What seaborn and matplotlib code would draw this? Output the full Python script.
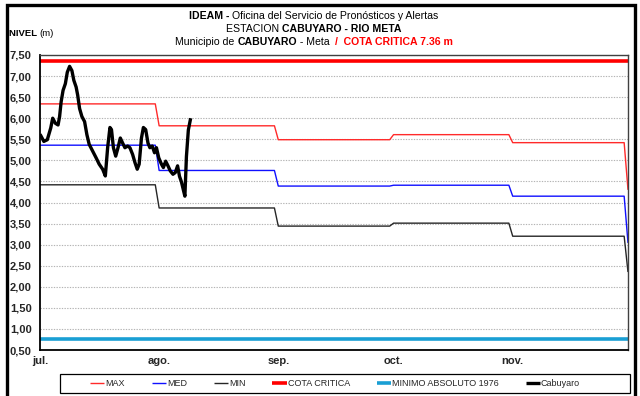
import numpy as np
import pandas as pd
import matplotlib
matplotlib.use("Agg")
import matplotlib.pyplot as plt
from matplotlib import font_manager
from matplotlib.ticker import FixedLocator, FixedFormatter, MultipleLocator, FuncFormatter
from matplotlib.patches import Rectangle
import seaborn as sns

# Monthly reference levels (m), first day of each month Jul..Dec
meses = ["2023-07-01", "2023-08-01", "2023-09-01", "2023-10-01", "2023-11-01", "2023-12-01"]
nivel_max = [6.34, 5.82, 5.49, 5.61, 5.42, 4.30]
nivel_med = [5.36, 4.76, 4.39, 4.41, 4.15, 3.04]
nivel_min = [4.42, 3.87, 3.44, 3.51, 3.20, 2.35]
cota_critica = 7.36
minimo_absoluto = 0.77

# Observed stage at Cabuyaro: days since 1 July and level (m)
obs_dia = [0.0, 1.0, 1.9, 2.8, 3.3, 4.0, 4.7, 5.1, 5.5, 6.0, 6.6, 7.1, 7.7, 8.3,
           8.8, 9.4, 9.8, 10.3, 10.9, 11.6, 12.2, 12.8, 13.7, 14.6, 15.4, 16.3,
           17.0, 17.6, 18.2, 18.6, 19.1, 19.7, 20.3, 20.9, 21.5, 22.1, 22.8, 23.4,
           24.1, 24.7, 25.3, 25.8, 26.4, 26.9, 27.5, 28.1, 28.6, 29.2, 29.8, 30.3,
           30.9, 31.6, 32.1, 32.7, 33.3, 33.9, 34.6, 35.2, 35.8, 36.3, 36.8, 37.3,
           37.7, 38.1, 38.6, 39.2]
obs_nivel = [5.62, 5.45, 5.49, 5.77, 6.00, 5.88, 5.84, 6.04, 6.39, 6.66, 6.82, 7.09,
             7.23, 7.13, 6.90, 6.74, 6.55, 6.23, 6.04, 5.92, 5.61, 5.38, 5.22, 5.06,
             4.91, 4.79, 4.63, 5.30, 5.78, 5.73, 5.30, 5.10, 5.30, 5.53, 5.41, 5.30,
             5.34, 5.30, 5.14, 4.95, 4.79, 4.91, 5.53, 5.78, 5.73, 5.41, 5.30, 5.34,
             5.18, 5.30, 5.06, 4.91, 4.83, 4.98, 4.87, 4.75, 4.67, 4.71, 4.87, 4.62,
             4.49, 4.30, 4.15, 5.09, 5.72, 6.00]

etiquetas_mes = ["jul.", "ago.", "sep.", "oct.", "nov."]
series = ["MAX", "MED", "MIN", "COTA CRITICA", "MINIMO ABSOLUTO 1976", "Cabuyaro"]
colores = {"MAX": "#ff2a2a", "MED": "#1010ff", "MIN": "#262626",
           "COTA CRITICA": "#ff0000", "MINIMO ABSOLUTO 1976": "#1a9fd4",
           "Cabuyaro": "#000000"}
grosor = {"MAX": 1.0, "MED": 1.0, "MIN": 1.0, "COTA CRITICA": 2.6,
          "MINIMO ABSOLUTO 1976": 2.6, "Cabuyaro": 2.4}

sns.set_theme(style="white")
disponibles = {f.name for f in font_manager.fontManager.ttflist}
familia = [f for f in ["Liberation Sans Narrow", "Liberation Sans", "DejaVu Sans"]
           if f in disponibles]
plt.rcParams["font.family"] = familia

# Daily table: each day carries the reference value of its month
inicio = pd.Timestamp(meses[0])
fechas = pd.date_range(meses[0], meses[-1], freq="D")
mes_idx = {pd.Timestamp(m).to_period("M"): i for i, m in enumerate(meses)}
idx = [mes_idx[f.to_period("M")] for f in fechas]
diario = pd.concat([
    pd.DataFrame({"fecha": fechas, "nivel": [nivel_max[i] for i in idx], "serie": "MAX"}),
    pd.DataFrame({"fecha": fechas, "nivel": [nivel_med[i] for i in idx], "serie": "MED"}),
    pd.DataFrame({"fecha": fechas, "nivel": [nivel_min[i] for i in idx], "serie": "MIN"}),
    pd.DataFrame({"fecha": fechas, "nivel": cota_critica, "serie": "COTA CRITICA"}),
    pd.DataFrame({"fecha": fechas, "nivel": minimo_absoluto, "serie": "MINIMO ABSOLUTO 1976"}),
])
obs = pd.DataFrame({"fecha": inicio + pd.to_timedelta(obs_dia, unit="D"),
                    "nivel": obs_nivel, "serie": "Cabuyaro"})

fig = plt.figure(figsize=(6.4, 3.96), dpi=100)
ax = fig.add_axes([40 / 640, 1 - 350 / 396, 588 / 640, 295 / 396])

for s in series:
    d = obs if s == "Cabuyaro" else diario[diario["serie"] == s]
    sns.lineplot(data=d, x="fecha", y="nivel", ax=ax, color=colores[s],
                 linewidth=grosor[s], label=s, estimator=None, sort=False)
for ln in ax.get_lines():
    ln.set_solid_joinstyle("round")
    ln.set_solid_capstyle("butt")

ax.set_xlim(pd.Timestamp(meses[0]), pd.Timestamp(meses[-1]))
ax.set_ylim(0.5, 7.5)
ax.yaxis.set_major_locator(MultipleLocator(0.5))
ax.yaxis.set_major_formatter(FuncFormatter(lambda v, p: f"{v:.2f}".replace(".", ",")))
ticks_x = [matplotlib.dates.date2num(pd.Timestamp(m)) for m in meses[:5]]
ax.xaxis.set_major_locator(FixedLocator(ticks_x))
ax.xaxis.set_major_formatter(FixedFormatter(etiquetas_mes))
ax.tick_params(axis="both", which="major", direction="out", length=4, width=1,
               color="black", labelsize=8)
ax.tick_params(axis="y", pad=2)
ax.tick_params(axis="x", pad=0.5)
for lab in ax.get_xticklabels() + ax.get_yticklabels():
    lab.set_fontweight("bold")
ax.set_xlabel("")
ax.set_ylabel("")
ax.grid(axis="y", color="#b4b4b4", linestyle=(0, (1.2, 1.2)), linewidth=0.8)
ax.grid(axis="x", visible=False)
ax.set_axisbelow(True)
for side in ["left", "bottom"]:
    ax.spines[side].set_color("black")
    ax.spines[side].set_linewidth(1.3)
for side in ["top", "right"]:
    ax.spines[side].set_color("#404040")
    ax.spines[side].set_linewidth(1.0)

# Legend along the bottom, inside its own box
handles, labels = ax.get_legend_handles_labels()
ax.get_legend().remove()
leg = fig.legend(handles, labels, loc="center left", ncol=6, mode="expand",
                 bbox_to_anchor=(90 / 640, 1 - 393 / 396, 490 / 640, 19 / 396),
                 fontsize=6.5, handlelength=1.6, handletextpad=0.1,
                 borderpad=0.0, frameon=False, borderaxespad=0)
fig.patches.append(Rectangle((60 / 640, 1 - 393 / 396), 570 / 640, 19 / 396,
                             transform=fig.transFigure, fill=False,
                             edgecolor="black", linewidth=0.9))


def linea_mixta(y_px, partes, xc_px, size):
    """Draw one line of text made of segments with their own weight and colour."""
    r = fig.canvas.get_renderer()
    textos, anchos = [], []
    for s, w, c in partes:
        t = fig.text(0, 1 - y_px / 396, s, fontsize=size, fontweight=w, color=c,
                     ha="left", va="center")
        textos.append(t)
        anchos.append(t.get_window_extent(renderer=r).width)
    x = xc_px - sum(anchos) / 2
    for t, w in zip(textos, anchos):
        t.set_x(x / 640)
        x += w


fig.canvas.draw()
linea_mixta(16, [("IDEAM - ", "bold", "black"),
                 ("Oficina del Servicio de Pronósticos y Alertas", "normal", "black")], 314, 7.6)
linea_mixta(29, [("ESTACION ", "normal", "black"),
                 ("CABUYARO - RIO META", "bold", "black")], 314, 7.6)
linea_mixta(42, [("Municipio de ", "normal", "black"), ("CABUYARO", "bold", "black"),
                 (" - Meta  ", "normal", "black"),
                 ("/  COTA CRITICA 7.36 m", "bold", "#ff0000")], 314, 7.6)
linea_mixta(34, [("NIVEL ", "bold", "black"), ("(m)", "normal", "black")], 31, 6.8)

# Chart-area frame
fig.patches.append(Rectangle((7 / 640, -0.02), 628 / 640, 1 - 5 / 396 + 0.02,
                             transform=fig.transFigure, fill=False,
                             edgecolor="black", linewidth=2.4))

fig.savefig("out.png", dpi=100)
